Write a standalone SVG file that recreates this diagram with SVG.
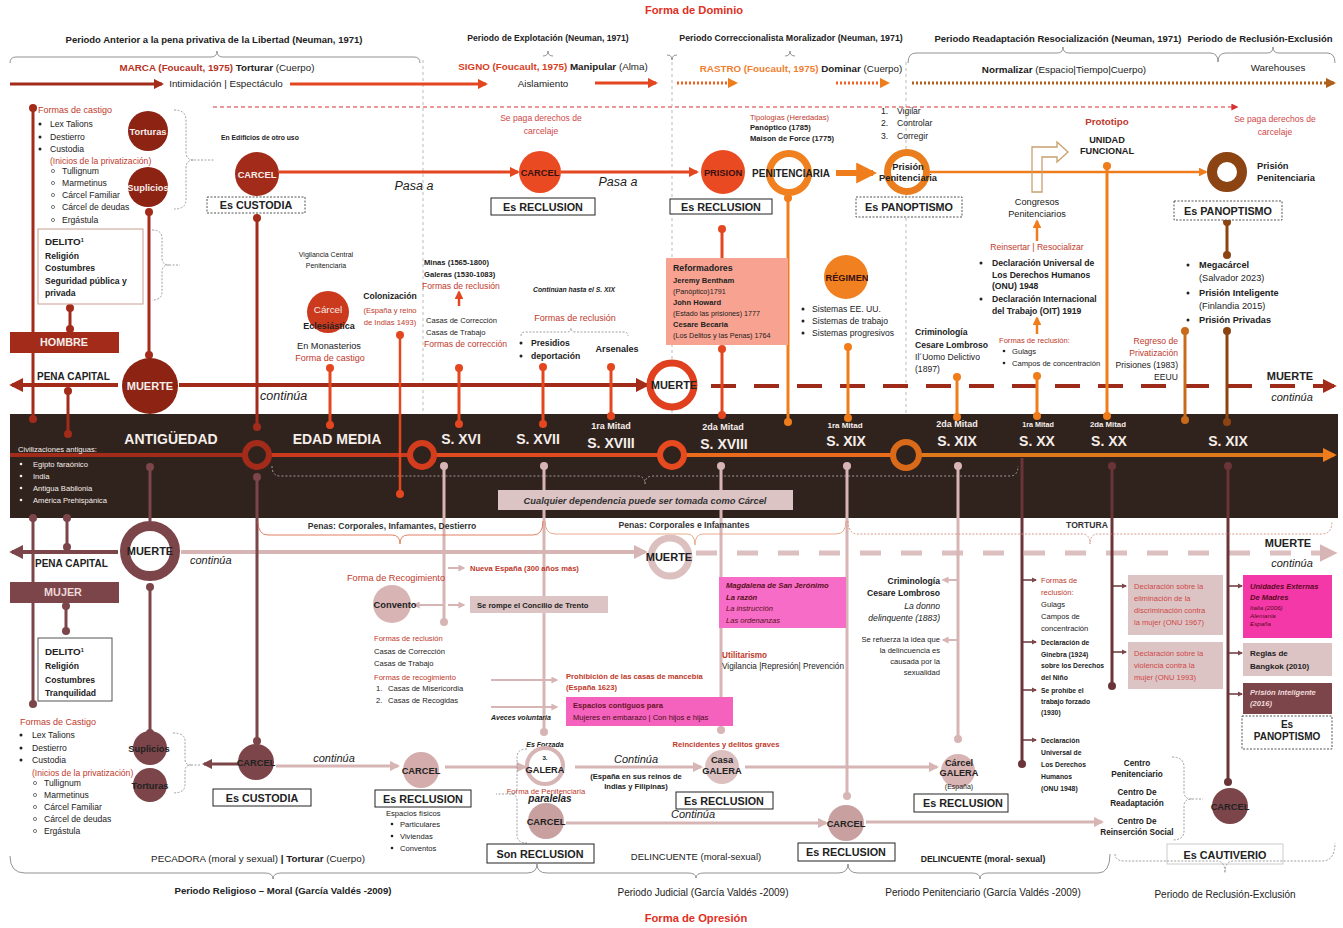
<svg xmlns="http://www.w3.org/2000/svg" width="1343" height="928" viewBox="0 0 1343 928">
<style>
text{font-family:"Liberation Sans",Arial,sans-serif;font-size:8.6px;fill:#222}
.b{font-weight:bold}
.i{font-style:italic}
.c{text-anchor:middle}
.e{text-anchor:end}
.red{fill:#c0392b}
.lred{fill:#d04848}
.wt{fill:#f6eeea}
.dk{fill:#3a1010}
.ttl{font-size:9.5px;font-weight:bold}
.band{font-size:14px;font-weight:bold;fill:#f6eeea}
.mid{font-size:9px;font-weight:bold;fill:#f6eeea}
.nd{font-size:9.3px;font-weight:bold}
.box{fill:#fff;stroke:#222;stroke-width:1}
.dbox{fill:#fff;stroke:#555;stroke-width:1;stroke-dasharray:2 1.5}
.bl{font-size:10.8px;font-weight:bold}
.s{font-size:7.6px}
.xs{font-size:7px}
.ln{fill:none;stroke-linecap:butt}
.dr{stroke:#a32b1a}.ro{stroke:#e4471f}.or{stroke:#ef7d1c}.br{stroke:#8c4412}.mv{stroke:#7b4549}.lp{stroke:#d8b5b5}.dmv{stroke:#6a3438}
.brace{fill:none;stroke:#777;stroke-width:0.8}
.dotb{fill:none;stroke:#888;stroke-width:0.8;stroke-dasharray:2 1.5}
.sep{stroke:#aaa;stroke-width:0.8;stroke-dasharray:3 3}
.f55{font-size:6.2px}.f7{font-size:8.2px}.f8{font-size:9.2px}.f85{font-size:9.8px}.f9{font-size:10px}.f95{font-size:10.5px}.f10{font-size:11px}.f105{font-size:11.2px}.f12{font-size:12.5px}
.sm{font-size:6.8px;font-weight:bold}
</style>
<defs>
<marker id="aDR" viewBox="0 0 10 10" refX="8" refY="5" markerWidth="3.5" markerHeight="3.5" orient="auto"><path d="M0,0L10,5L0,10z" fill="#a32b1a"/></marker>
<marker id="aRO" viewBox="0 0 10 10" refX="8" refY="5" markerWidth="3.5" markerHeight="3.5" orient="auto"><path d="M0,0L10,5L0,10z" fill="#e4471f"/></marker>
<marker id="aOR" viewBox="0 0 10 10" refX="8" refY="5" markerWidth="3.5" markerHeight="3.5" orient="auto"><path d="M0,0L10,5L0,10z" fill="#ef7d1c"/></marker>
<marker id="aBR" viewBox="0 0 10 10" refX="8" refY="5" markerWidth="3.5" markerHeight="3.5" orient="auto"><path d="M0,0L10,5L0,10z" fill="#b0601a"/></marker>
<marker id="aMV" viewBox="0 0 10 10" refX="8" refY="5" markerWidth="3.5" markerHeight="3.5" orient="auto"><path d="M0,0L10,5L0,10z" fill="#7b4549"/></marker>
<marker id="aLP" viewBox="0 0 10 10" refX="8" refY="5" markerWidth="3.5" markerHeight="3.5" orient="auto"><path d="M0,0L10,5L0,10z" fill="#d8b5b5"/></marker>
<marker id="aRD" viewBox="0 0 10 10" refX="8" refY="5" markerWidth="7" markerHeight="7" orient="auto"><path d="M0,0L10,5L0,10z" fill="#d83030"/></marker>
</defs>

<!-- headings -->
<g id="headings">
<text x="694" y="14" class="b c f105" style="fill:#e0301e">Forma de Dominio</text>
<text x="214" y="43" class="ttl c">Periodo Anterior a la pena privativa de la Libertad (Neuman, 1971)</text>
<text x="548" y="41" class="c b" style="font-size:8.6px">Periodo de Explotación (Neuman, 1971)</text>
<text x="791" y="41" class="c b" style="font-size:8.8px">Periodo Correccionalista Moralizador (Neuman, 1971)</text>
<text x="1058" y="42" class="ttl c">Periodo Readaptación Resocialización (Neuman, 1971)</text>
<text x="1260" y="42" class="ttl c">Periodo de Reclusión-Exclusión</text>
<path class="brace" d="M10,63 q0,-6 6,-6 H211 q6,0 6,-6 q0,6 6,6 H414 q6,0 6,6"/>
<path class="brace" d="M543,56 q5,0 5,-5 q0,5 5,5 M785,56 q5,0 5,-5 q0,5 5,5 M667,55 q5,0 5,5 q0,-5 5,-5"/>
<path class="brace" d="M908,63 q0,-10 8,-10 H1057 q6,0 6,-6 q0,6 6,6 H1210 q8,0 8,9 q0,-9 8,-9 H1267 q6,0 6,-6 q0,6 6,6 H1327 q8,0 8,10"/>
<text x="217" y="71" class="c f85"><tspan class="b" style="fill:#b8321f">MARCA (Foucault, 1975)</tspan><tspan class="b"> Torturar</tspan> (Cuerpo)</text>
<text x="553" y="70" class="c f85"><tspan class="b" style="fill:#d8401e">SIGNO (Foucault, 1975)</tspan><tspan class="b"> Manipular</tspan> (Alma)</text>
<text x="801" y="72" class="c f85"><tspan class="b" style="fill:#f08030">RASTRO (Foucault, 1975)</tspan><tspan class="b"> Dominar</tspan> (Cuerpo)</text>
<text x="1064" y="73" class="c f85"><tspan class="b">Normalizar</tspan> (Espacio|Tiempo|Cuerpo)</text>
<text x="1278" y="71" class="c f85">Warehouses</text>
<text x="226" y="87" class="c f85">Intimidación | Espectáculo</text>
<text x="543" y="87" class="c f85">Aislamiento</text>
</g>

<!-- period separators -->
<g id="separators">
<line class="sep" x1="423" y1="60" x2="423" y2="414"/>
<line class="sep" x1="672" y1="62" x2="672" y2="414"/>
<line class="sep" x1="906" y1="62" x2="906" y2="414"/>
</g>

<!-- dark band with timeline -->
<g id="band">
<rect x="10" y="414" width="1328" height="104" fill="#30231e"/>
<line x1="10" y1="455" x2="245" y2="455" stroke="#a32b1a" stroke-width="4"/>
<line x1="269" y1="455" x2="410" y2="455" stroke="#cc3a1e" stroke-width="4"/>
<line x1="434" y1="455" x2="660" y2="455" stroke="#e24a20" stroke-width="4"/>
<line x1="684" y1="455" x2="894" y2="455" stroke="#ec6a1c" stroke-width="4"/>
<line x1="918" y1="455" x2="1334" y2="455" stroke="#e0781c" stroke-width="4" marker-end="url(#aOR)"/>
<circle cx="257" cy="455" r="12" fill="#30231e" stroke="#a32b1a" stroke-width="6"/>
<circle cx="422" cy="455" r="12" fill="#30231e" stroke="#d43c1e" stroke-width="6"/>
<circle cx="672" cy="455" r="12" fill="#30231e" stroke="#e84a20" stroke-width="6"/>
<circle cx="906" cy="455" r="13" fill="#30231e" stroke="#d86a1a" stroke-width="6"/>
<text x="171" y="444" class="band c">ANTIGÜEDAD</text>
<text x="337" y="444" class="band c">EDAD MEDIA</text>
<text x="461" y="444" class="band c">S. XVI</text>
<text x="538" y="444" class="band c">S. XVII</text>
<text x="611" y="429" class="mid c">1ra Mitad</text><text x="611" y="448" class="band c">S. XVIII</text>
<text x="723" y="430" class="mid c">2da Mitad</text><text x="724" y="449" class="band c">S.  XVIII</text>
<text x="845" y="428" class="mid c" style="font-size:8px">1ra Mitad</text><text x="846" y="446" class="band c">S. XIX</text>
<text x="957" y="427" class="mid c">2da Mitad</text><text x="957" y="446" class="band c">S.  XIX</text>
<text x="1038" y="427" class="mid c" style="font-size:7.2px">1ra Mitad</text><text x="1037" y="446" class="band c">S. XX</text>
<text x="1108" y="427" class="mid c" style="font-size:7.8px">2da Mitad</text><text x="1109" y="446" class="band c">S.  XX</text>
<text x="1228" y="446" class="band c">S. XIX</text>
<text x="18" y="452" class="s wt">Civilizaciones antiguas:</text>
<g fill="#f6eeea"><circle cx="21" cy="464" r="1.3"/><circle cx="21" cy="476" r="1.3"/><circle cx="21" cy="488" r="1.3"/><circle cx="21" cy="500" r="1.3"/></g>
<text x="33" y="467" class="s wt">Egipto faraónico</text>
<text x="33" y="479" class="s wt">India</text>
<text x="33" y="491" class="s wt">Antigua Babilonia</text>
<text x="33" y="503" class="s wt">América Prehispánica</text>
<path d="M272,466 q0,10 8,10 H637 q8,0 8,8 q0,-8 8,-8 H1010 q8,0 8,-10" fill="none" stroke="#bbb" stroke-width="0.8" stroke-dasharray="2 2"/>
</g>

<!-- connectors -->
<g id="connectors" class="ln">
<!-- top flow row -->
<line class="dr" x1="10" y1="84" x2="162" y2="84" stroke-width="3" marker-end="url(#aDR)"/>
<line class="ro" x1="290" y1="84" x2="486" y2="84" stroke-width="3" marker-end="url(#aRO)"/>
<line class="ro" x1="595" y1="83" x2="656" y2="83" stroke-width="3" marker-end="url(#aRO)"/>
<line x1="677" y1="83" x2="736" y2="83" stroke="#f06020" stroke-width="3" stroke-dasharray="2 2" marker-end="url(#aOR)"/>
<line x1="836" y1="83" x2="888" y2="83" stroke="#f06020" stroke-width="3" stroke-dasharray="2 2" marker-end="url(#aOR)"/>
<line x1="912" y1="83" x2="1334" y2="83" stroke="#b0601a" stroke-width="3" stroke-dasharray="2 2" marker-end="url(#aBR)"/>
<line x1="213" y1="107" x2="1237" y2="107" stroke="#d83030" stroke-width="1" stroke-dasharray="4 3" marker-end="url(#aRD)"/>
<!-- upper left -->
<line class="dr" x1="33" y1="108" x2="33" y2="419" stroke-width="3"/>
<line class="dr" x1="149" y1="212" x2="149" y2="355" stroke-width="3"/>
<line class="dr" x1="70" y1="308" x2="70" y2="330" stroke-width="3"/>
<line class="dr" x1="118" y1="385" x2="12" y2="385" stroke-width="4" marker-end="url(#aDR)"/>
<line class="dr" x1="68" y1="391" x2="68" y2="434" stroke-width="3"/>
<line class="dr" x1="179" y1="385" x2="647" y2="385" stroke-width="4" marker-end="url(#aDR)"/>
<line x1="711" y1="386" x2="1334" y2="386" stroke="#9e2a1a" stroke-width="4" stroke-dasharray="25 18" marker-end="url(#aDR)"/>
<line class="ro" x1="279" y1="172" x2="518" y2="172" stroke-width="3" marker-end="url(#aRO)"/>
<line class="dr" x1="257" y1="218" x2="257" y2="427" stroke-width="3"/>
<line class="ro" x1="330" y1="368" x2="330" y2="425" stroke-width="3"/>
<line class="ro" x1="400" y1="335" x2="400" y2="494" stroke-width="2.5"/>
<line class="ro" x1="459" y1="306" x2="459" y2="292" stroke-width="2.5" marker-end="url(#aRO)"/>
<line class="ro" x1="459" y1="368" x2="459" y2="424" stroke-width="3"/>
<line class="ro" x1="543" y1="367" x2="543" y2="424" stroke-width="3"/>
<line class="ro" x1="611" y1="367" x2="611" y2="416" stroke-width="3"/>
<line class="ro" x1="561" y1="172" x2="697" y2="172" stroke-width="3" marker-end="url(#aRO)"/>
<line class="ro" x1="722" y1="229" x2="722" y2="258" stroke-width="3"/>
<line class="ro" x1="722" y1="349" x2="722" y2="415" stroke-width="3"/>
<line class="or" x1="788" y1="198" x2="788" y2="422" stroke-width="3"/>
<line class="or" x1="836" y1="173" x2="873" y2="173" stroke-width="6" marker-end="url(#aOR)"/>
<line class="or" x1="848" y1="347" x2="848" y2="418" stroke-width="3"/>
<line class="or" x1="930" y1="172" x2="1206" y2="172" stroke-width="2.5" marker-end="url(#aOR)"/>
<line class="or" x1="1107" y1="166" x2="1107" y2="416" stroke-width="3"/>
<line class="or" x1="1037" y1="241" x2="1037" y2="221" stroke-width="2.5" marker-end="url(#aOR)"/>
<line class="or" x1="1037" y1="334" x2="1037" y2="318" stroke-width="2.5" marker-end="url(#aOR)"/>
<line class="or" x1="1037" y1="376" x2="1037" y2="416" stroke-width="3"/>
<line class="or" x1="957" y1="377" x2="957" y2="417" stroke-width="3"/>
<line x1="1185" y1="331" x2="1185" y2="420" stroke="#c86a1c" stroke-width="3"/>
<line class="br" x1="1227" y1="221" x2="1227" y2="255" stroke-width="3"/>
<line class="br" x1="1227" y1="331" x2="1227" y2="422" stroke-width="3"/>
<!-- lower half -->
<line class="mv" x1="33" y1="518" x2="33" y2="704" stroke-width="3"/>
<line class="mv" x1="67" y1="518" x2="67" y2="547" stroke-width="3"/>
<line class="mv" x1="118" y1="552" x2="12" y2="552" stroke-width="4" marker-end="url(#aMV)"/>
<line class="mv" x1="150" y1="467" x2="150" y2="521" stroke-width="3"/>
<line class="mv" x1="150" y1="587" x2="150" y2="733" stroke-width="3"/>
<line class="lp" x1="181" y1="552" x2="645" y2="552" stroke-width="4" marker-end="url(#aLP)"/>
<line x1="696" y1="553" x2="1334" y2="553" stroke="#dcc0c0" stroke-width="5" stroke-dasharray="21 20" marker-end="url(#aLP)"/>
<line class="mv" x1="66" y1="606" x2="66" y2="631" stroke-width="3"/>
<line class="mv" x1="257" y1="477" x2="257" y2="741" stroke-width="3"/>
<line class="mv" x1="238" y1="764" x2="204" y2="764" stroke-width="3" marker-end="url(#aMV)"/>
<line class="lp" x1="276" y1="766" x2="398" y2="766" stroke-width="3" marker-end="url(#aLP)"/>
<line class="lp" x1="445" y1="767" x2="525" y2="767" stroke-width="3" marker-end="url(#aLP)"/>
<line class="lp" x1="444" y1="466" x2="444" y2="622" stroke-width="3"/>
<line class="lp" x1="444" y1="605" x2="414" y2="605" stroke-width="2" marker-end="url(#aLP)"/>
<line class="lp" x1="448" y1="568" x2="464" y2="568" stroke-width="2" marker-end="url(#aLP)"/>
<line class="lp" x1="448" y1="605" x2="464" y2="605" stroke-width="2" marker-end="url(#aLP)"/>
<line class="lp" x1="491" y1="680" x2="557" y2="680" stroke-width="2" marker-end="url(#aLP)"/>
<line class="lp" x1="491" y1="707" x2="557" y2="707" stroke-width="2" marker-end="url(#aLP)"/>
<line class="lp" x1="544" y1="466" x2="544" y2="732" stroke-width="3"/>
<line class="lp" x1="575" y1="767" x2="701" y2="767" stroke-width="3" marker-end="url(#aLP)"/>
<line class="lp" x1="721" y1="466" x2="721" y2="730" stroke-width="3"/>
<line class="lp" x1="745" y1="767" x2="937" y2="767" stroke-width="3" marker-end="url(#aLP)"/>
<line class="lp" x1="958" y1="466" x2="958" y2="739" stroke-width="3"/>
<line class="lp" x1="958" y1="580" x2="943" y2="580" stroke-width="2" marker-end="url(#aLP)"/>
<line class="lp" x1="958" y1="640" x2="943" y2="640" stroke-width="2" marker-end="url(#aLP)"/>
<line class="lp" x1="566" y1="823" x2="826" y2="823" stroke-width="3" marker-end="url(#aLP)"/>
<line class="lp" x1="847" y1="466" x2="847" y2="796" stroke-width="3"/>
<line class="lp" x1="866" y1="822" x2="1102" y2="822" stroke-width="3" marker-end="url(#aLP)"/>
<line class="dmv" x1="1022" y1="458" x2="1022" y2="764" stroke-width="3"/>
<line class="dmv" x1="1022" y1="580" x2="1036" y2="580" stroke-width="1.5" marker-end="url(#aMV)"/>
<line class="dmv" x1="1022" y1="642" x2="1036" y2="642" stroke-width="1.5" marker-end="url(#aMV)"/>
<line class="dmv" x1="1022" y1="690" x2="1036" y2="690" stroke-width="1.5" marker-end="url(#aMV)"/>
<line class="dmv" x1="1022" y1="740" x2="1036" y2="740" stroke-width="1.5" marker-end="url(#aMV)"/>
<line class="dmv" x1="1112" y1="466" x2="1112" y2="686" stroke-width="3"/>
<line class="dmv" x1="1112" y1="586" x2="1126" y2="586" stroke-width="1.5" marker-end="url(#aMV)"/>
<line class="dmv" x1="1112" y1="652" x2="1126" y2="652" stroke-width="1.5" marker-end="url(#aMV)"/>
<line class="dmv" x1="1228" y1="466" x2="1228" y2="782" stroke-width="3"/>
<line class="dmv" x1="1228" y1="586" x2="1242" y2="586" stroke-width="1.5" marker-end="url(#aMV)"/>
<line class="dmv" x1="1228" y1="653" x2="1242" y2="653" stroke-width="1.5" marker-end="url(#aMV)"/>
<line class="dmv" x1="1228" y1="694" x2="1242" y2="694" stroke-width="1.5" marker-end="url(#aMV)"/>
</g>

<!-- connector end dots -->
<g id="dots">
<g fill="#a32b1a"><circle cx="33" cy="108" r="4"/><circle cx="33" cy="419" r="4"/><circle cx="149" cy="212" r="4"/><circle cx="149" cy="355" r="4"/><circle cx="70" cy="308" r="4"/><circle cx="70" cy="329" r="4"/><circle cx="68" cy="391" r="4"/><circle cx="68" cy="434" r="4"/><circle cx="257" cy="218" r="4"/><circle cx="257" cy="427" r="4"/></g>
<g fill="#e4471f"><circle cx="330" cy="368" r="4"/><circle cx="330" cy="425" r="4"/><circle cx="400" cy="335" r="4"/><circle cx="400" cy="494" r="4"/><circle cx="459" cy="368" r="4"/><circle cx="459" cy="424" r="4"/><circle cx="543" cy="367" r="4"/><circle cx="543" cy="424" r="4"/><circle cx="611" cy="367" r="4"/><circle cx="611" cy="416" r="4"/><circle cx="722" cy="229" r="4"/><circle cx="722" cy="349" r="4"/><circle cx="722" cy="415" r="4"/></g>
<g fill="#ef7d1c"><circle cx="788" cy="198" r="4"/><circle cx="788" cy="422" r="4"/><circle cx="848" cy="347" r="4"/><circle cx="848" cy="418" r="4"/><circle cx="1107" cy="166" r="4"/><circle cx="1107" cy="416" r="4"/><circle cx="1037" cy="376" r="4"/><circle cx="1037" cy="416" r="4"/><circle cx="957" cy="377" r="4"/><circle cx="957" cy="417" r="4"/></g>
<g fill="#c86a1c"><circle cx="1185" cy="331" r="4"/><circle cx="1185" cy="420" r="4"/></g>
<g fill="#8c4412"><circle cx="1227" cy="222" r="4"/><circle cx="1227" cy="255" r="4"/><circle cx="1227" cy="331" r="4"/><circle cx="1227" cy="422" r="4"/></g>
<g fill="#7b4549"><circle cx="33" cy="518" r="4"/><circle cx="33" cy="704" r="4"/><circle cx="67" cy="518" r="4"/><circle cx="67" cy="547" r="4"/><circle cx="150" cy="467" r="4"/><circle cx="150" cy="587" r="4"/><circle cx="150" cy="733" r="4"/><circle cx="66" cy="606" r="4"/><circle cx="66" cy="631" r="4"/><circle cx="257" cy="477" r="4"/><circle cx="257" cy="741" r="4"/></g>
<g fill="#d8b5b5"><circle cx="444" cy="466" r="4"/><circle cx="444" cy="622" r="4"/><circle cx="544" cy="466" r="4"/><circle cx="544" cy="732" r="4"/><circle cx="721" cy="466" r="4"/><circle cx="721" cy="730" r="4"/><circle cx="958" cy="466" r="4"/><circle cx="958" cy="739" r="4"/><circle cx="847" cy="466" r="4"/><circle cx="847" cy="796" r="4"/></g>
<g fill="#6a3438"><circle cx="1022" cy="764" r="4"/><circle cx="1112" cy="466" r="4"/><circle cx="1112" cy="686" r="4"/><circle cx="1228" cy="466" r="4"/><circle cx="1228" cy="782" r="4"/></g>
</g>

<!-- label laid across the band -->
<g id="cualquier-dependencia">
<rect x="498" y="490" width="295" height="20" fill="#dcc4c4"/>
<text x="645" y="503.5" class="b i c" style="fill:#333;font-size:9.3px">Cualquier dependencia puede ser tomada como Cárcel</text>
</g>

<!-- upper left: formas de castigo -->
<g id="formas-castigo-h">
<text x="38" y="113" class="red" style="font-size:9px">Formas de castigo</text>
<g fill="#222"><circle cx="40" cy="124" r="1.5"/><circle cx="40" cy="137" r="1.5"/><circle cx="40" cy="149" r="1.5"/></g>
<text x="50" y="127">Lex Talions</text>
<text x="50" y="140">Destierro</text>
<text x="50" y="152">Custodia</text>
<text x="50" y="164" class="red">(Inicios de la privatización)</text>
<g fill="none" stroke="#444" stroke-width="0.7"><circle cx="53" cy="171" r="1.6"/><circle cx="53" cy="183" r="1.6"/><circle cx="53" cy="195" r="1.6"/><circle cx="53" cy="207" r="1.6"/><circle cx="53" cy="220" r="1.6"/></g>
<text x="62" y="174">Tullignum</text>
<text x="62" y="186">Marmetinus</text>
<text x="62" y="198">Cárcel Familiar</text>
<text x="62" y="210">Cárcel de deudas</text>
<text x="62" y="223">Ergástula</text>
</g>
<g id="torturas-h"><circle cx="148" cy="131" r="20" fill="#8c2313"/><text x="148" y="134.5" class="nd c wt">Torturas</text></g>
<g id="suplicios-h"><circle cx="148" cy="187" r="20" fill="#8c2313"/><text x="148" y="190.5" class="nd c wt">Suplicios</text></g>
<path class="dotb" d="M174,110 q12,0 12,10 V152 q0,8 8,8 q-8,0 -8,8 V200 q0,9 -12,9 M194,160 H215"/>
<g id="delito-h">
<rect x="38" y="229" width="105" height="75" fill="#fff" stroke="#c8a090"/>
<text x="45" y="245" class="b f85">DELITO<tspan font-size="5.5" dy="-3.5">1</tspan></text>
<text x="45" y="259" class="b">Religión</text>
<text x="45" y="271" class="b">Costumbres</text>
<text x="45" y="284" class="b">Seguridad pública y</text>
<text x="45" y="296" class="b">privada</text>
</g>
<path class="dotb" d="M152,230 q10,0 10,8 V258 q0,7 7,7 q-7,0 -7,7 V292 q0,8 -10,8 M169,265 H180"/>
<g id="hombre"><rect x="10" y="332" width="109" height="21" fill="#a32b1a"/><text x="64" y="346" class="bl c wt">HOMBRE</text></g>
<text x="37" y="380" class="b f9">PENA CAPITAL</text>
<g id="muerte-h"><circle cx="150" cy="386" r="28" fill="#8c2313"/><text x="150" y="390" class="b c wt f10">MUERTE</text></g>
<text x="260" y="400" class="i f12">continúa</text>

<!-- carcel / custodia -->
<text x="221" y="140" class="b" style="font-size:6.8px">En Edificios de otro uso</text>
<g id="carcel-custodia"><circle cx="257" cy="174" r="22" fill="#a32b1a"/><text x="257" y="177.5" class="nd c wt">CARCEL</text></g>
<text x="414" y="190" class="i c f12">Pasa a</text>
<g id="es-custodia-h"><rect x="207" y="197" width="98" height="16" class="dbox"/><text x="256" y="209" class="bl c">Es CUSTODIA</text></g>
<text x="326" y="257" class="c xs">Vigilancia Central</text>
<text x="326" y="268" class="c xs">Penitenciaria</text>
<g id="carcel-eclesiastica"><circle cx="328" cy="312" r="21" fill="#cc3a1e"/><text x="328" y="313" class="c wt" style="font-size:9.8px">Cárcel</text><text x="329" y="329" class="c b" style="font-size:9px">Eclesiástica</text></g>
<text x="329" y="349" class="c" style="font-size:9.2px">En Monasterios</text>
<text x="330" y="361" class="c red" style="font-size:9px">Forma de castigo</text>
<g id="colonizacion"><text x="390" y="299" class="c b">Colonización</text><text x="390" y="313" class="c red s">(España y reino</text><text x="390" y="325" class="c red s">de Indias 1493)</text></g>
<g id="minas">
<text x="424" y="265" class="b s">Minas (1565-1800)</text>
<text x="424" y="277" class="b s">Galeras (1530-1083)</text>
<text x="422" y="289" class="red">Formas de reclusión</text>
<text x="426" y="323" class="s">Casas de Corrección</text>
<text x="426" y="335" class="s">Casas de Trabajo</text>
<text x="424" y="347" class="red">Formas de corrección</text>
</g>
<text x="574" y="292" class="c b i" style="font-size:6.8px">Continúan hasta el S. XIX</text>
<text x="575" y="321" class="c red" style="font-size:9px">Formas de reclusión</text>
<path class="dotb" d="M521,336 q0,-4 4,-4 H567 q4,0 4,-4 q0,4 4,4 H624 q4,0 4,4"/>
<g fill="#222"><circle cx="521" cy="343" r="1.5"/><circle cx="521" cy="356" r="1.5"/></g>
<text x="531" y="346" class="b">Presidios</text>
<text x="531" y="359" class="b">deportación</text>
<text x="617" y="352" class="c b" style="font-size:9px">Arsenales</text>
<g id="muerte-ring-h"><circle cx="672" cy="385" r="22" fill="#fff" stroke="#e0401e" stroke-width="7"/><text x="674" y="389" class="b c f10">MUERTE</text></g>
<text x="1290" y="380" class="b c f10">MUERTE</text>
<text x="1292" y="401" class="i c f10">continúa</text>

<!-- explotación / correccionalista -->
<g id="carcel-reclusion"><circle cx="540" cy="172" r="21" fill="#ea4a22"/><text x="540" y="175.5" class="nd c dk">CARCEL</text></g>
<text x="541" y="121" class="c lred">Se paga derechos de</text>
<text x="541" y="134" class="c lred">carcelaje</text>
<text x="618" y="186" class="i c f12">Pasa a</text>
<g id="es-reclusion-1"><rect x="491" y="198" width="104" height="17" class="box"/><text x="543" y="210.5" class="bl c">Es RECLUSION</text></g>
<g id="prision"><circle cx="723" cy="172" r="22" fill="#ea4a22"/><text x="723" y="175.5" class="nd c dk">PRISION</text></g>
<g id="penitenciaria"><circle cx="789" cy="173" r="19.5" fill="none" stroke="#f08020" stroke-width="7"/><text x="791" y="176.5" class="b c f9">PENITENCIARIA</text></g>
<g id="es-reclusion-2"><rect x="670" y="199" width="102" height="15" class="box"/><text x="721" y="210.5" class="bl c">Es RECLUSION</text></g>
<text x="750" y="120" class="red s">Tipologías (Heredadas)</text>
<text x="750" y="130" class="b s">Panóptico (1785)</text>
<text x="750" y="141" class="b s">Maison de Force (1775)</text>
<g id="reformadores">
<rect x="666" y="258" width="122" height="87" fill="#f8a391"/>
<text x="673" y="271" class="b" style="font-size:8.8px">Reformadores</text>
<text x="673" y="283" class="b" style="font-size:7.6px">Jeremy Bentham</text>
<text x="673" y="294" style="font-size:7.2px">(Panóptico)1791</text>
<text x="673" y="305" class="b" style="font-size:7.6px">John Howard</text>
<text x="673" y="316" style="font-size:7.2px">(Estado las prisiones) 1777</text>
<text x="673" y="327" class="b" style="font-size:7.6px">Cesare Becaria</text>
<text x="673" y="338" style="font-size:7.2px">(Los Delitos y las Penas) 1764</text>
</g>
<g id="regimen"><circle cx="846" cy="277" r="22" fill="#f08020"/><text x="847" y="280.5" class="b c dk f8">RÉGIMEN</text></g>
<g fill="#222"><circle cx="803" cy="309" r="1.5"/><circle cx="803" cy="321" r="1.5"/><circle cx="803" cy="333" r="1.5"/></g>
<text x="812" y="312">Sistemas EE. UU.</text>
<text x="812" y="324">Sistemas de trabajo</text>
<text x="812" y="336">Sistemas progresivos</text>

<!-- readaptación -->
<text x="881" y="114">1.</text><text x="897" y="114">Vigilar</text>
<text x="881" y="126">2.</text><text x="897" y="126">Controlar</text>
<text x="881" y="139">3.</text><text x="897" y="139">Corregir</text>
<g id="prision-penitenciaria-1"><circle cx="907" cy="172" r="19.5" fill="#fff" stroke="#ea7d1e" stroke-width="7"/><text x="908" y="170" class="nd c">Prisión</text><text x="908" y="181" class="nd c">Penitenciaria</text></g>
<g id="es-panoptismo-1"><rect x="856" y="197" width="106" height="20" class="dbox"/><text x="909" y="211" class="bl c">Es PANOPTISMO</text></g>
<g id="prision-penitenciaria-2"><circle cx="1227" cy="172" r="15" fill="#fff" stroke="#8c4412" stroke-width="10"/><text x="1257" y="169" class="nd">Prisión</text><text x="1257" y="181" class="nd">Penitenciaria</text></g>
<text x="1275" y="122" class="c lred">Se paga derechos de</text>
<text x="1275" y="135" class="c lred">carcelaje</text>
<text x="1107" y="125" class="c b red f85">Prototipo</text>
<g id="unidad-funcional"><text x="1107" y="143" class="c b f8">UNIDAD</text><text x="1107" y="154" class="c b f8">FUNCIONAL</text></g>
<path d="M1032,192 V147 H1057 V142 L1068,152 L1057,162 V157 H1042 V192 Z" fill="none" stroke="#c8a070" stroke-width="1.3"/>
<text x="1037" y="205" class="c f8">Congresos</text>
<text x="1037" y="217" class="c f8">Penitenciarios</text>
<text x="1037" y="250" class="c red">Reinsertar | Resocializar</text>
<g fill="#222"><circle cx="981" cy="263" r="1.5"/><circle cx="981" cy="299" r="1.5"/></g>
<text x="992" y="266" class="b">Declaración Universal de</text>
<text x="992" y="278" class="b">Los Derechos Humanos</text>
<text x="992" y="289" class="b">(ONU) 1948</text>
<text x="992" y="302" class="b">Declaración Internacional</text>
<text x="992" y="314" class="b">del Trabajo (OIT) 1919</text>
<text x="999" y="343" class="red s">Formas de reclusión:</text>
<g fill="#222"><circle cx="1004" cy="351" r="1.3"/><circle cx="1004" cy="363" r="1.3"/></g>
<text x="1012" y="354" class="s">Gulags</text>
<text x="1012" y="366" class="s">Campos de concentración</text>
<text x="915" y="335" class="b">Criminología</text>
<text x="915" y="348" class="b">Cesare Lombroso</text>
<text x="915" y="360">Il´Uomo Delictivo</text>
<text x="915" y="372">(1897)</text>
<text x="1178" y="344" class="e red">Regreso de</text>
<text x="1178" y="356" class="e red">Privatización</text>
<text x="1178" y="368" class="e">Prisiones (1983)</text>
<text x="1178" y="380" class="e">EEUU</text>
<g id="es-panoptismo-2"><rect x="1174" y="201" width="108" height="19" class="dbox"/><text x="1228" y="214.5" class="bl c">Es PANOPTISMO</text></g>
<g fill="#222"><circle cx="1188" cy="265" r="1.5"/><circle cx="1188" cy="293" r="1.5"/><circle cx="1188" cy="320" r="1.5"/></g>
<text x="1199" y="268" class="b f8">Megacárcel</text>
<text x="1199" y="281" class="f8">(Salvador 2023)</text>
<text x="1199" y="296" class="b f8">Prisión Inteligente</text>
<text x="1199" y="309" class="f8">(Finlandia 2015)</text>
<text x="1199" y="323" class="b f8">Prisión Privadas</text>

<!-- below band: pena labels -->
<text x="392" y="529" class="c b" style="fill:#333">Penas: Corporales, Infamantes, Destierro</text>
<path d="M258,521 q0,14 10,14 H392 q8,0 8,9 q0,-9 8,-9 H533 q10,0 10,-14" fill="none" stroke="#e07050" stroke-width="0.9"/>
<text x="684" y="528" class="c b" style="fill:#333">Penas: Corporales e Infamantes</text>
<path d="M545,521 q0,13 10,13 H687 q8,0 8,11 q0,-11 8,-11 H836 q10,0 10,-13" fill="none" stroke="#e8a080" stroke-width="0.9"/>
<text x="1087" y="528" class="c b" style="fill:#333">TORTURA</text>
<path d="M848,521 q0,13 10,13 H1082 q8,0 8,10 q0,-10 8,-10 H1322 q10,0 10,-13" fill="none" stroke="#d09080" stroke-width="0.9" stroke-dasharray="2 1.5"/>

<!-- lower left: mujer -->
<text x="35" y="567" class="b f9">PENA CAPITAL</text>
<g id="muerte-m"><circle cx="150" cy="551" r="25" fill="#fff" stroke="#7b4549" stroke-width="10"/><text x="150" y="555" class="b c f10">MUERTE</text></g>
<text x="190" y="564" class="i f10">continúa</text>
<g id="muerte-ring-m"><circle cx="670" cy="557" r="19" fill="#fff" stroke="#dcc0c0" stroke-width="7"/><text x="669" y="561" class="b c f10">MUERTE</text></g>
<text x="1288" y="547" class="b c f10">MUERTE</text>
<text x="1292" y="567" class="i c f10">continúa</text>
<g id="mujer"><rect x="10" y="582" width="109" height="21" fill="#7b4549"/><text x="63" y="595.5" class="bl c" style="fill:#f0d8d8">MUJER</text></g>
<g id="delito-m">
<rect x="38" y="638" width="74" height="63" fill="#fff" stroke="#555"/>
<text x="45" y="655" class="b f85">DELITO<tspan font-size="5.5" dy="-3.5">1</tspan></text>
<text x="45" y="669" class="b">Religión</text>
<text x="45" y="683" class="b">Costumbres</text>
<text x="45" y="696" class="b">Tranquilidad</text>
</g>
<g id="formas-castigo-m">
<text x="20" y="725" class="red" style="font-size:9px">Formas de Castigo</text>
<g fill="#222"><circle cx="21" cy="735" r="1.5"/><circle cx="21" cy="748" r="1.5"/><circle cx="21" cy="760" r="1.5"/></g>
<text x="32" y="738">Lex Talions</text>
<text x="32" y="751">Destierro</text>
<text x="32" y="763">Custodia</text>
<text x="32" y="776" class="red">(Inicios de la privatización)</text>
<g fill="none" stroke="#444" stroke-width="0.7"><circle cx="35" cy="783" r="1.6"/><circle cx="35" cy="795" r="1.6"/><circle cx="35" cy="807" r="1.6"/><circle cx="35" cy="819" r="1.6"/><circle cx="35" cy="831" r="1.6"/></g>
<text x="44" y="786">Tullignum</text>
<text x="44" y="798">Marmetinus</text>
<text x="44" y="810">Cárcel Familiar</text>
<text x="44" y="822">Cárcel de deudas</text>
<text x="44" y="834">Ergástula</text>
</g>
<g id="suplicios-m"><circle cx="150" cy="748" r="17" fill="#7b4549"/><text x="149" y="751.5" class="nd c">Suplicios</text></g>
<g id="torturas-m"><circle cx="150" cy="785" r="17" fill="#7b4549"/><text x="150" y="788.5" class="nd c">Torturas</text></g>
<path class="dotb" d="M173,733 q12,0 12,8 V759 q0,6 6,6 q-6,0 -6,6 V785 q0,8 -12,8 M191,765 H201"/>
<g id="carcel-custodia-m"><circle cx="256" cy="762" r="18" fill="#7b4549"/><text x="256" y="765.5" class="nd c">CARCEL</text></g>
<g id="es-custodia-m"><rect x="213" y="789" width="98" height="17" class="box"/><text x="262" y="801.5" class="bl c">Es CUSTODIA</text></g>
<text x="334" y="762" class="i c f10">continúa</text>
<g id="carcel-reclusion-m"><circle cx="421" cy="770" r="18" fill="#d4acac"/><text x="421" y="773.5" class="nd c">CARCEL</text></g>
<g id="es-reclusion-m1"><rect x="375" y="790" width="96" height="17" class="box"/><text x="423" y="803" class="bl c">Es RECLUSION</text></g>
<text x="386" y="816" class="s">Espacios físicos</text>
<g fill="#222"><circle cx="392" cy="824" r="1.3"/><circle cx="392" cy="836" r="1.3"/><circle cx="392" cy="848" r="1.3"/></g>
<text x="400" y="827" class="s">Particulares</text>
<text x="400" y="839" class="s">Viviendas</text>
<text x="400" y="851" class="s">Conventos</text>
<g id="convento"><circle cx="392" cy="604" r="19" fill="#d8b4b4"/><text x="395" y="607.5" class="nd c">Convento</text></g>
<text x="396" y="581" class="c red" style="font-size:9.2px">Forma de Recogimiento</text>
<text x="470" y="571" class="b red s">Nueva España (300 años más)</text>
<g id="concilio"><rect x="470" y="596" width="138" height="17" fill="#dcc4c4"/><text x="477" y="607.5" class="b s">Se rompe el Concilio de Trento</text></g>
<text x="374" y="641" class="red s">Formas de reclusión</text>
<text x="374" y="654" class="s">Casas de Corrección</text>
<text x="374" y="666" class="s">Casas de Trabajo</text>
<text x="374" y="680" class="red s">Formas de recogimiento</text>
<text x="376" y="691" class="s">1.</text><text x="388" y="691" class="s">Casas de Misericordia</text>
<text x="376" y="703" class="s">2.</text><text x="388" y="703" class="s">Casas de Recogidas</text>
<text x="566" y="679" class="b red s">Prohibición de las casas de mancebía</text>
<text x="566" y="690" class="b red s">(España 1623)</text>
<g id="espacios-contiguos"><rect x="566" y="697" width="167" height="29" fill="#f462bd"/><text x="573" y="708" class="b s" style="fill:#6a1428">Espacios contiguos para</text><text x="573" y="720" class="s" style="fill:#4a0c18">Mujeres en embarazo | Con hijos e hijas</text></g>
<text x="491" y="719.5" class="b i xs">Aveces voluntaria</text>
<text x="545" y="746.5" class="b i c xs">Es Forzada</text>
<g id="galera"><circle cx="545" cy="766" r="18" fill="#fff" stroke="#d8b5b5" stroke-width="4"/><text x="545" y="760" class="c b f55">3.</text><text x="545" y="773" class="c b f8">GALERA</text></g>
<text x="546" y="793.5" class="c red s">Forma de Penitenciaria</text>
<text x="550" y="802" class="c b i f9">paralelas</text>
<path class="dotb" d="M527,749 q-10,0 -10,8 V787 q0,7 -6,7 q6,0 6,7 V835 q0,8 10,8 M511,794 H496"/>
<text x="636" y="763" class="i c f10">Continúa</text>
<text x="636" y="779" class="b c s">(España en sus reinos de</text>
<text x="636" y="789" class="b c s">Indias y Filipinas)</text>
<g id="casa-galera"><circle cx="722" cy="767" r="17" fill="#dcc0c0"/><text x="722" y="762.5" class="nd c">Casa</text><text x="722" y="773.5" class="nd c">GALERA</text></g>
<text x="726" y="747" class="b c red s">Reincidentes y delitos graves</text>
<g id="magdalena"><rect x="719" y="577" width="127" height="51" fill="#f66cc6"/>
<text x="726" y="588" class="b i s" style="fill:#5a1020">Magdalena de San Jerónimo</text>
<text x="726" y="599.5" class="b i s" style="fill:#5a1020">La razón</text>
<text x="726" y="611" class="i s" style="fill:#5a1020">La instrucción</text>
<text x="726" y="622.5" class="i s" style="fill:#5a1020">Las ordenanzas</text></g>
<text x="722" y="658" class="b red f7">Utilitarismo</text>
<text x="722" y="669" class="f7">Vigilancia |Represión| Prevención</text>
<g id="es-reclusion-m2"><rect x="676" y="792" width="97" height="17" class="box"/><text x="724" y="804.5" class="bl c">Es RECLUSION</text></g>
<g id="carcel-galera"><circle cx="958" cy="771" r="17" fill="#d8b4b4"/><text x="959" y="766" class="b c f8">Cárcel</text><text x="959" y="776" class="b c f8">GALERA</text></g>
<text x="959" y="789" class="c xs">(España)</text>
<g id="es-reclusion-m3"><rect x="914" y="794" width="94" height="18" class="box"/><text x="963" y="807" class="bl c">Es RECLUSION</text></g>
<text x="940" y="584" class="b e">Criminología</text>
<text x="940" y="596" class="b e">Cesare Lombroso</text>
<text x="940" y="609" class="i e">La donno</text>
<text x="940" y="621" class="i e">delinquente (1883)</text>
<text x="940" y="642" class="e s">Se refuerza la idea que</text>
<text x="940" y="653" class="e s">la delincuencia es</text>
<text x="940" y="664" class="e s">causada por la</text>
<text x="940" y="675" class="e s">sexualidad</text>
<g id="carcel-paralela"><circle cx="546" cy="821" r="18" fill="#c8a0a0"/><text x="546" y="824.5" class="nd c">CARCEL</text></g>
<text x="693" y="818" class="i c f10">Continúa</text>
<g id="carcel-penitenciaria-m"><circle cx="846" cy="823" r="18" fill="#c8a0a0"/><text x="846" y="826.5" class="nd c">CARCEL</text></g>
<g id="son-reclusion"><rect x="487" y="844" width="107" height="19" class="box"/><text x="540" y="857.5" class="bl c">Son RECLUSION</text></g>
<text x="696" y="860" class="c" style="font-size:9.5px">DELINCUENTE (moral-sexual)</text>
<g id="es-reclusion-m4"><rect x="798" y="843" width="97" height="18" class="box"/><text x="846" y="856" class="bl c">Es RECLUSION</text></g>
<text x="983" y="862" class="c b" style="font-size:8.6px">DELINCUENTE (moral- sexual)</text>

<!-- lower right -->
<g id="declaraciones">
<text x="1041" y="583" class="red s">Formas de</text>
<text x="1041" y="595" class="red s">reclusión:</text>
<text x="1041" y="607" class="s">Gulags</text>
<text x="1041" y="619" class="s">Campos de</text>
<text x="1041" y="631" class="s">concentración</text>
<text x="1041" y="645" class="sm">Declaración de</text>
<text x="1041" y="657" class="sm">Ginebra (1924)</text>
<text x="1041" y="668" class="sm">sobre los Derechos</text>
<text x="1041" y="680" class="sm">del Niño</text>
<text x="1041" y="693" class="sm">Se prohíbe el</text>
<text x="1041" y="704" class="sm">trabajo forzado</text>
<text x="1041" y="715" class="sm">(1930)</text>
<text x="1041" y="743" class="sm">Declaración</text>
<text x="1041" y="755" class="sm">Universal de</text>
<text x="1041" y="767" class="sm">Los Derechos</text>
<text x="1041" y="779" class="sm">Humanos</text>
<text x="1041" y="791" class="sm">(ONU 1948)</text>
</g>
<g id="decl-1967"><rect x="1128" y="575" width="95" height="60" fill="#dcc4c4"/>
<text x="1134" y="589" class="lred s">Declaración sobre la</text><text x="1134" y="601" class="lred s">eliminación de la</text><text x="1134" y="613" class="lred s">discriminación contra</text><text x="1134" y="625" class="lred s">la mujer (ONU 1967)</text></g>
<g id="decl-1993"><rect x="1128" y="642" width="95" height="47" fill="#dcc4c4"/>
<text x="1134" y="656" class="lred s">Declaración sobre la</text><text x="1134" y="668" class="lred s">violencia contra la</text><text x="1134" y="680" class="lred s">mujer (ONU 1993)</text></g>
<g id="unidades-externas"><rect x="1243" y="575" width="89" height="63" fill="#f538a8"/>
<text x="1250" y="589" class="b i s" style="fill:#5a0a20">Unidades Externas</text><text x="1250" y="600" class="b i s" style="fill:#5a0a20">De Madres</text>
<text x="1250" y="610" class="i f55" style="fill:#5a0a20">Italia (2006)</text><text x="1250" y="618" class="i f55" style="fill:#5a0a20">Alemania</text><text x="1250" y="626" class="i f55" style="fill:#5a0a20">España</text></g>
<g id="bangkok"><rect x="1243" y="643" width="89" height="33" fill="#dcc4c4"/><text x="1250" y="656" class="b" style="font-size:8px">Reglas de</text><text x="1250" y="669" class="b" style="font-size:8px">Bangkok (2010)</text></g>
<g id="prision-inteligente"><rect x="1243" y="683" width="89" height="31" fill="#7b4549"/><text x="1250" y="695" class="b i s" style="fill:#f0dada">Prisión Inteligente</text><text x="1250" y="706" class="b i s" style="fill:#f0dada">(2016)</text></g>
<g id="es-panoptismo-m"><rect x="1242" y="716" width="90" height="33" class="dbox"/><text x="1287" y="728" class="b c f9">Es</text><text x="1287" y="740" class="b c f9">PANOPTISMO</text></g>
<g id="carcel-exclusion"><circle cx="1230" cy="806" r="18" fill="#7b4549"/><text x="1230" y="809.5" class="nd c">CARCEL</text></g>
<g id="centros">
<text x="1137" y="766" class="b c" style="font-size:8.2px">Centro</text>
<text x="1137" y="777" class="b c" style="font-size:8.2px">Penitenciario</text>
<text x="1137" y="795" class="b c" style="font-size:8.2px">Centro De</text>
<text x="1137" y="806" class="b c" style="font-size:8.2px">Readaptación</text>
<text x="1137" y="824" class="b c" style="font-size:8.2px">Centro De</text>
<text x="1137" y="835" class="b c" style="font-size:8.2px">Reinserción Social</text>
</g>
<path class="dotb" d="M1172,757 q12,0 12,10 V792 q0,7 8,7 q-8,0 -8,7 V831 q0,9 -12,9 M1192,799 H1203"/>
<g id="es-cautiverio"><rect x="1167" y="844" width="116" height="20" fill="#fff" stroke="#ccc"/><text x="1225" y="858.5" class="bl c">Es CAUTIVERIO</text></g>

<!-- bottom periods -->
<g id="bottom">
<text x="258" y="862" class="c f85">PECADORA (moral y sexual) <tspan class="b">| Torturar</tspan> (Cuerpo)</text>
<path class="brace" d="M10,856 q0,17 15,17 H265 q8,0 8,6 q0,-6 8,-6 H527 q10,0 10,-9 q0,9 10,9 H688 q8,0 8,5 q0,-5 8,-5 H838 q10,0 10,-9 q0,9 10,9 H972 q8,0 8,6 q0,-6 8,-6 H1098 q12,0 12,-19"/>
<path class="dotb" d="M1115,854 q0,7 10,7 H1217 q8,0 8,12 q0,-12 8,-12 H1322 q13,0 13,-18"/>
<text x="283" y="894" class="c b" style="font-size:9.6px">Periodo Religioso – Moral (García Valdés -2009)</text>
<text x="703" y="896" class="c f9">Periodo Judicial (García Valdés -2009)</text>
<text x="983" y="896" class="c f9">Periodo Penitenciario (García Valdés -2009)</text>
<text x="1225" y="898" class="c f9">Periodo de Reclusión-Exclusión</text>
<text x="696" y="922" class="c b f105" style="fill:#e0301e">Forma de Opresión</text>
</g>
</svg>
